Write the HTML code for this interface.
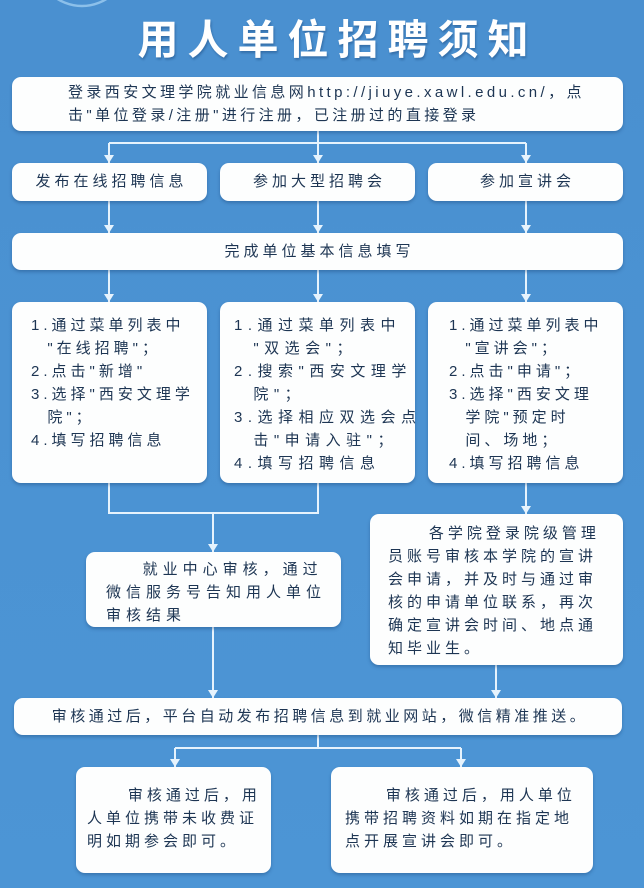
<!DOCTYPE html>
<html><head><meta charset="utf-8"><style>
body{margin:0;width:644px;height:888px;overflow:hidden;background:#4b93d3;font-family:"Liberation Sans","Noto Sans CJK SC",sans-serif;}
#bg{position:absolute;left:0;top:0;width:644px;height:888px;background:linear-gradient(#4a90d0,#4c95d5);}
.b{position:absolute;background:#fdfefe;border-radius:9px;box-shadow:0 2px 3px rgba(20,60,110,.35);color:#1d3553;font-size:15px;line-height:23px;white-space:pre;box-sizing:border-box;letter-spacing:4px;}
.c{text-align:center;text-indent:4px;}
h1{position:absolute;left:11px;width:644px;top:6px;margin:0;text-align:center;color:#fff;font-size:41px;letter-spacing:9px;font-weight:bold;text-indent:9px;font-family:"Noto Sans CJK SC",sans-serif;text-shadow:1px 2px 2px rgba(20,60,110,.4);}
svg{position:absolute;left:0;top:0;}
</style></head><body>
<div id="bg"></div>
<svg width="644" height="888"><circle cx="82" cy="-40" r="46" fill="none" stroke="#8cc0ea" stroke-width="2.5"/></svg>
<h1>用人单位招聘须知</h1>
<svg width="644" height="888" stroke="#e6f3fd" stroke-width="2" fill="none">
<path d="M318 131V143M109 143H526M109 143V163M318 143V163M526 143V163"/>
<path d="M109 201V233M318 201V233M526 201V233"/>
<path d="M109 270V302M318 270V302M526 270V302"/>
<path d="M109 483V513H318V483M213 513V552M526 483V514"/>
<path d="M213 627V698M496 665V698"/>
<path d="M318 735V748M175 748H461M175 748V767M461 748V767"/>
<g fill="#e6f3fd" stroke="none">
<path d="M104 155L114 155L109 163Z"/><path d="M313 155L323 155L318 163Z"/><path d="M521 155L531 155L526 163Z"/>
<path d="M104 225L114 225L109 233Z"/><path d="M313 225L323 225L318 233Z"/><path d="M521 225L531 225L526 233Z"/>
<path d="M104 294L114 294L109 302Z"/><path d="M313 294L323 294L318 302Z"/><path d="M521 294L531 294L526 302Z"/>
<path d="M208 544L218 544L213 552Z"/><path d="M521 506L531 506L526 514Z"/>
<path d="M208 690L218 690L213 698Z"/><path d="M491 690L501 690L496 698Z"/>
<path d="M170 759L180 759L175 767Z"/><path d="M456 759L466 759L461 767Z"/>
</g></svg>
<div class="b" style="left:12px;top:77px;width:611px;height:54px;padding:4px 0 0 56px;letter-spacing:3.4px;">登录西安文理学院就业信息网http://jiuye.xawl.edu.cn/，点
击"单位登录/注册"进行注册，已注册过的直接登录</div>
<div class="b c" style="left:12px;top:163px;width:195px;height:38px;line-height:38px;">发布在线招聘信息</div>
<div class="b c" style="left:220px;top:163px;width:195px;height:38px;line-height:38px;">参加大型招聘会</div>
<div class="b c" style="left:428px;top:163px;width:195px;height:38px;line-height:38px;">参加宣讲会</div>
<div class="b c" style="left:12px;top:233px;width:611px;height:37px;line-height:37px;">完成单位基本信息填写</div>
<div class="b" style="left:12px;top:302px;width:195px;height:181px;padding:12px 0 0 19px;">1.通过菜单列表中
  "在线招聘"；
2.点击"新增"
3.选择"西安文理学
  院"；
4.填写招聘信息</div>
<div class="b" style="left:220px;top:302px;width:195px;height:181px;padding:12px 0 0 14px;letter-spacing:5.5px;">1.通过菜单列表中
  "双选会"；
2.搜索"西安文理学
  院"；
3.选择相应双选会点
  击"申请入驻"；
4.填写招聘信息</div>
<div class="b" style="left:428px;top:302px;width:195px;height:181px;padding:12px 0 0 21px;">1.通过菜单列表中
  "宣讲会"；
2.点击"申请"；
3.选择"西安文理
  学院"预定时
  间、场地；
4.填写招聘信息</div>
<div class="b" style="left:86px;top:552px;width:255px;height:75px;padding:6px 0 0 20px;letter-spacing:5px;">    就业中心审核，通过
微信服务号告知用人单位
审核结果</div>
<div class="b" style="left:370px;top:514px;width:253px;height:151px;padding:8px 0 0 18px;">     各学院登录院级管理
员账号审核本学院的宣讲
会申请，并及时与通过审
核的申请单位联系，再次
确定宣讲会时间、地点通
知毕业生。</div>
<div class="b c" style="left:14px;top:698px;width:608px;height:37px;line-height:37px;letter-spacing:3.5px;">审核通过后，平台自动发布招聘信息到就业网站，微信精准推送。</div>
<div class="b" style="left:76px;top:767px;width:195px;height:106px;padding:17px 0 0 11px;">     审核通过后，用
人单位携带未收费证
明如期参会即可。</div>
<div class="b" style="left:331px;top:767px;width:262px;height:106px;padding:17px 0 0 14px;">     审核通过后，用人单位
携带招聘资料如期在指定地
点开展宣讲会即可。</div>
</body></html>
